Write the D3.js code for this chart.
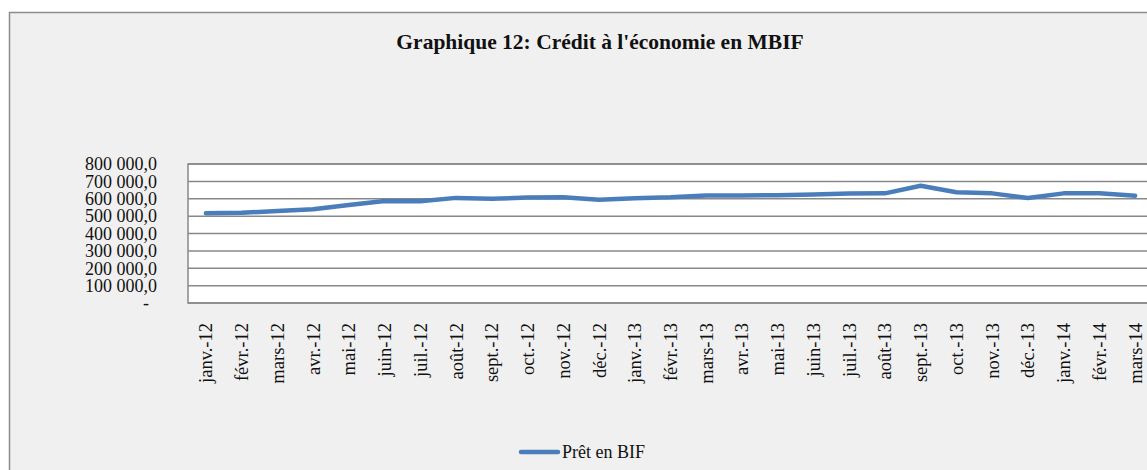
<!DOCTYPE html>
<html lang="fr">

<head>
  <meta charset="utf-8">
  <title>Graphique 12</title>
  <script src="https://d3js.org/d3.v7.min.js"></script>
  <style>
    body { margin: 0; background: #fff; }
    svg text { font-family: "Liberation Serif", serif; fill: #111; }
  </style>
</head>

<body>
  <script>
    // mois (axe des catégories)
    var mois = ['janv.-12', 'févr.-12', 'mars-12', 'avr.-12', 'mai-12', 'juin-12', 'juil.-12', 'août-12',
      'sept.-12', 'oct.-12', 'nov.-12', 'déc.-12', 'janv.-13', 'févr.-13', 'mars-13', 'avr.-13', 'mai-13',
      'juin-13', 'juil.-13', 'août-13', 'sept.-13', 'oct.-13', 'nov.-13', 'déc.-13', 'janv.-14', 'févr.-14',
      'mars-14'];
    // Prêt en BIF (MBIF)
    var pret = [517000, 519000, 530000, 539000, 564000, 587000, 586000, 605000,
      600000, 607000, 609000, 594000, 603000, 608000, 619000, 619000, 620000,
      625000, 630000, 631000, 675000, 637000, 631000, 604000, 631000, 631000,
      617000];
    var yTicks = [0, 100000, 200000, 300000, 400000, 500000, 600000, 700000, 800000];
    var titre = "Graphique 12: Crédit à l'économie en MBIF";
    var serie = 'Prêt en BIF';

    var w = 1147, h = 470;
    var margin = { top: 164, left: 188, bottom: 167 };
    var plotRight = 1153;

    var svg = d3.select('body').append('svg')
      .attr('width', w)
      .attr('height', h);

    // fond du graphique
    svg.append('rect')
      .attr('x', 9.5).attr('y', 12.5)
      .attr('width', w + 20).attr('height', h + 20)
      .attr('fill', '#f0f0f0')
      .attr('stroke', '#8c8c8c')
      .attr('stroke-width', 1.5);

    var x = d3.scalePoint().domain(mois).range([margin.left, plotRight]).padding(0.5);
    var y = d3.scaleLinear().domain([0, 800000]).range([h - margin.bottom, margin.top]);

    // zone de tracé
    svg.append('rect')
      .attr('x', margin.left).attr('y', y(800000))
      .attr('width', plotRight - margin.left).attr('height', y(0) - y(800000))
      .attr('fill', '#fff')
      .attr('stroke', '#888')
      .attr('stroke-width', 1.5);

    svg.append('g').selectAll('line')
      .data(yTicks)
      .enter().append('line')
      .attr('x1', margin.left).attr('x2', plotRight)
      .attr('y1', function (d) { return y(d) }).attr('y2', function (d) { return y(d) })
      .attr('stroke', '#888').attr('stroke-width', 1.5);

    var fmt = function (d) {
      if (d === 0) return '-';
      return d3.format(',.1f')(d).replace(/,/g, ' ').replace('.', ',');
    };

    svg.append('g').selectAll('text')
      .data(yTicks)
      .enter().append('text')
      .attr('x', function (d) { return d === 0 ? 149 : 157 })
      .attr('y', function (d) { return y(d) })
      .attr('dy', '0.35em')
      .attr('text-anchor', 'end')
      .style('font-size', '18px')
      .text(fmt);

    svg.append('g').selectAll('text')
      .data(mois)
      .enter().append('text')
      .attr('transform', function (d) { return 'translate(' + x(d) + ',323) rotate(-90)' })
      .attr('dy', '0.35em')
      .attr('text-anchor', 'end')
      .style('font-size', '18.5px')
      .text(function (d) { return d });

    var line = d3.line()
      .x(function (d, i) { return x(mois[i]) })
      .y(function (d) { return y(d) });

    svg.append('path')
      .datum(pret)
      .attr('d', line)
      .attr('fill', 'none')
      .attr('stroke', '#4a7ebb')
      .attr('stroke-width', 4.5)
      .attr('stroke-linejoin', 'round')
      .attr('stroke-linecap', 'round');

    svg.append('text')
      .attr('x', 600).attr('y', 49)
      .attr('text-anchor', 'middle')
      .style('font-size', '21.5px')
      .style('font-weight', 'bold')
      .text(titre);

    // légende
    svg.append('line')
      .attr('x1', 521).attr('x2', 558)
      .attr('y1', 452).attr('y2', 452)
      .attr('stroke', '#4a7ebb').attr('stroke-width', 4.5)
      .attr('stroke-linecap', 'round');
    svg.append('text')
      .attr('x', 562).attr('y', 452)
      .attr('dy', '0.35em')
      .style('font-family', '"Liberation Serif", serif')
      .style('font-size', '18px')
      .text(serie);
  </script>
</body>

</html>
